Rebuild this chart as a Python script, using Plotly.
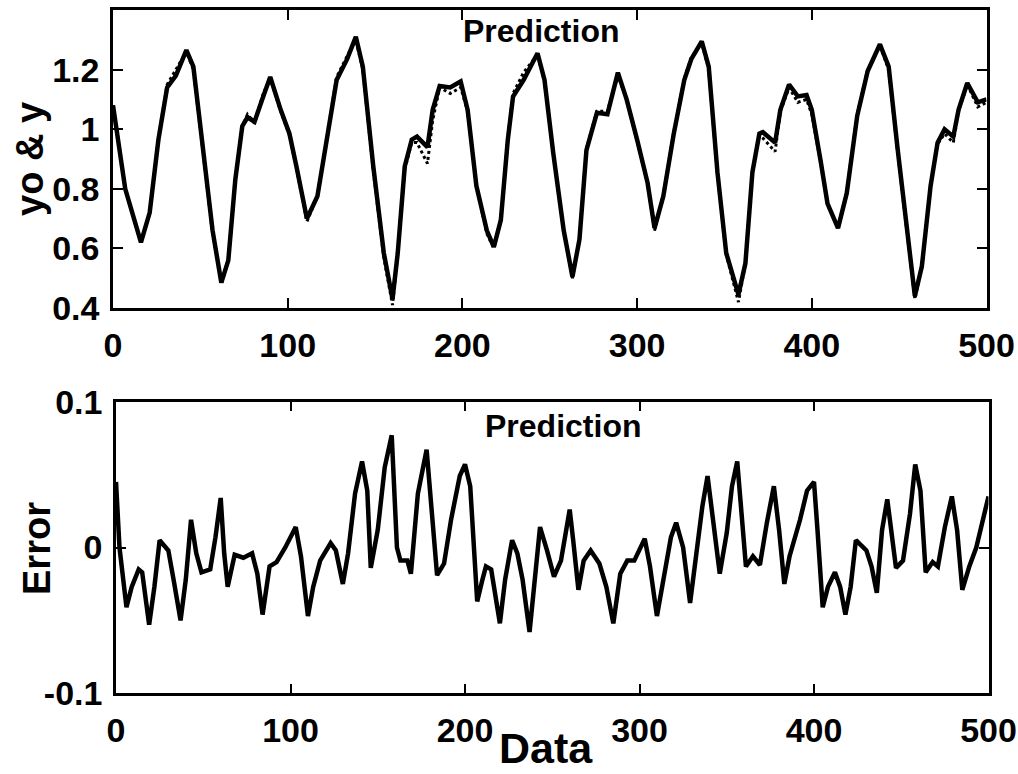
import plotly.graph_objects as go

# ---------------- data ----------------
t_top = [0, 7, 16, 21, 26, 31, 36, 42, 46, 52,
         57, 62, 66, 70, 74, 77, 81, 86, 90, 96,
         101, 105, 111, 117, 122, 128, 134, 139, 143, 149,
         155, 160, 163, 167, 171, 174, 180, 183, 187, 193,
         199, 203, 208, 214, 218, 222, 226, 229, 235, 243,
         247, 252, 258, 263, 267, 271, 277, 283, 289, 294,
         300, 306, 310, 315, 321, 327, 331, 337, 341, 346,
         351, 358, 362, 366, 370, 372, 379, 382, 387, 392,
         397, 400, 405, 409, 415, 420, 426, 432, 439, 444,
         449, 455, 459, 463, 468, 472, 476, 481, 484, 489,
         495, 500]

y_actual = [1.08, 0.80, 0.62, 0.72, 0.965, 1.14, 1.18, 1.265, 1.21, 0.92,
            0.66, 0.485, 0.56, 0.83, 1.01, 1.04, 1.025, 1.11, 1.175, 1.065,
            0.985, 0.875, 0.70, 0.775, 0.955, 1.165, 1.235, 1.31, 1.21, 0.875,
            0.585, 0.43, 0.585, 0.875, 0.965, 0.975, 0.94, 1.065, 1.145, 1.14,
            1.16, 1.065, 0.81, 0.66, 0.605, 0.695, 0.965, 1.11, 1.165, 1.255,
            1.165, 0.92, 0.66, 0.505, 0.63, 0.93, 1.055, 1.05, 1.19, 1.10,
            0.965, 0.82, 0.668, 0.775, 0.985, 1.165, 1.235, 1.295, 1.21, 0.855,
            0.585, 0.445, 0.55, 0.855, 0.985, 0.99, 0.955, 1.065, 1.15, 1.11,
            1.115, 1.065, 0.895, 0.75, 0.668, 0.785, 1.045, 1.195, 1.285, 1.21,
            0.94, 0.65, 0.44, 0.54, 0.81, 0.955, 1.0, 0.975, 1.065, 1.155,
            1.09, 1.10]

y_pred = [1.08, 0.80, 0.62, 0.72, 0.97, 1.15, 1.20, 1.26, 1.20, 0.91,
          0.65, 0.48, 0.56, 0.83, 1.01, 1.05, 1.02, 1.12, 1.17, 1.06,
          0.98, 0.87, 0.69, 0.775, 0.96, 1.175, 1.245, 1.30, 1.20, 0.86,
          0.57, 0.41, 0.58, 0.865, 0.955, 0.955, 0.885, 1.03, 1.14, 1.12,
          1.14, 1.06, 0.81, 0.65, 0.60, 0.70, 0.97, 1.12, 1.19, 1.25,
          1.16, 0.92, 0.66, 0.50, 0.63, 0.935, 1.06, 1.06, 1.18, 1.10,
          0.96, 0.82, 0.66, 0.78, 0.99, 1.17, 1.24, 1.29, 1.20, 0.85,
          0.58, 0.42, 0.55, 0.86, 0.98, 0.97, 0.925, 1.06, 1.14, 1.09,
          1.10, 1.05, 0.89, 0.75, 0.67, 0.79, 1.05, 1.20, 1.28, 1.20,
          0.93, 0.64, 0.43, 0.54, 0.81, 0.95, 0.985, 0.955, 1.06, 1.15,
          1.075, 1.09]

t_err = [0, 2, 6, 9, 13, 15, 19, 22, 25, 30,
         33, 37, 40, 43, 46, 49, 54, 57, 60, 62,
         64, 68, 73, 78, 81, 84, 88, 92, 97, 100,
         103, 106, 110, 113, 117, 123, 126, 130, 133, 137,
         141, 144, 146, 150, 154, 158, 161, 163, 167, 169,
         173, 178, 181, 184, 188, 192, 197, 200, 203, 206,
         207, 210, 212, 215, 220, 223, 227, 230, 233, 237,
         240, 243, 247, 251, 255, 260, 262, 265, 268, 272,
         277, 281, 285, 289, 293, 297, 303, 306, 310, 314,
         318, 321, 325, 329, 333, 336, 339, 341, 346, 350,
         353, 356, 359, 361, 365, 369, 373, 377, 380, 383,
         386, 392, 396, 400, 402, 405, 408, 412, 415, 418,
         421, 424, 430, 433, 436, 439, 442, 444, 447, 451,
         455, 458, 461, 464, 468, 471, 475, 479, 482, 485,
         489, 493, 500]

err = [0.045, 0.0, -0.041, -0.027, -0.015, -0.017, -0.053, -0.027, 0.005, -0.002,
       -0.022, -0.050, -0.022, 0.019, -0.004, -0.017, -0.015, 0.007, 0.034, -0.004,
       -0.027, -0.005, -0.007, -0.004, -0.018, -0.046, -0.013, -0.010, 0.0, 0.007,
       0.014, -0.006, -0.047, -0.027, -0.009, 0.003, -0.002, -0.025, -0.004, 0.037,
       0.059, 0.039, -0.014, 0.012, 0.055, 0.077, 0.0, -0.009, -0.009, -0.018,
       0.037, 0.067, 0.019, -0.019, -0.011, 0.019, 0.049, 0.057, 0.042, -0.013,
       -0.037, -0.022, -0.013, -0.015, -0.052, -0.022, 0.005, -0.004, -0.022, -0.058,
       -0.022, 0.014, -0.002, -0.020, -0.009, 0.026, 0.005, -0.029, -0.009, -0.002,
       -0.011, -0.027, -0.052, -0.018, -0.009, -0.009, 0.006, -0.013, -0.047, -0.020,
       0.007, 0.017, 0.0, -0.038, 0.0, 0.028, 0.049, 0.028, -0.018, 0.010,
       0.042, 0.059, 0.019, -0.013, -0.006, -0.012, 0.017, 0.042, 0.012, -0.025,
       -0.006, 0.019, 0.039, 0.045, 0.012, -0.041, -0.027, -0.017, -0.027, -0.046,
       -0.027, 0.005, -0.002, -0.013, -0.031, 0.012, 0.033, 0.012, -0.014, -0.009,
       0.023, 0.057, 0.039, -0.017, -0.010, -0.013, 0.014, 0.035, 0.012, -0.029,
       -0.013, 0.0, 0.035]

x_ticks = [0, 100, 200, 300, 400, 500]
top_ticks = [0.4, 0.6, 0.8, 1.0, 1.2]
top_tick_labels = ["0.4", "0.6", "0.8", "1", "1.2"]
err_ticks = [-0.1, 0.0, 0.1]
err_tick_labels = ["-0.1", "0", "0.1"]

# ---------------- figure ----------------
FONT = "Liberation Sans"
tickfont = dict(family=FONT, size=34, color="black", weight="bold")

fig = go.Figure()
fig.add_trace(go.Scatter(x=t_top, y=y_pred, mode="lines",
                         line=dict(color="black", width=3, dash="dot"),
                         xaxis="x", yaxis="y", name="yo"))
fig.add_trace(go.Scatter(x=t_top, y=y_actual, mode="lines",
                         line=dict(color="black", width=4.5),
                         xaxis="x", yaxis="y", name="y"))
fig.add_trace(go.Scatter(x=t_err, y=err, mode="lines",
                         line=dict(color="black", width=4.5),
                         xaxis="x2", yaxis="y2", name="Error"))

axis_common = dict(showline=True, linecolor="black", linewidth=2.5, mirror="ticks",
                   ticks="inside", ticklen=10, tickwidth=2, tickcolor="black",
                   showgrid=False, zeroline=False, tickfont=tickfont,
                   automargin=False)

W, H = 1018, 774
fig.update_layout(
    width=W, height=H,
    margin=dict(l=0, r=0, t=0, b=0, autoexpand=False),
    paper_bgcolor="white", plot_bgcolor="white",
    showlegend=False,
    xaxis=dict(domain=[113 / W, 986.5 / W], range=[0, 500], tickvals=x_ticks,
               anchor="y", ticklabelstandoff=5, **axis_common),
    yaxis=dict(domain=[(H - 308) / H, (H - 10) / H], range=[0.4, 1.4],
               tickvals=top_ticks, ticktext=top_tick_labels, anchor="x",
               ticklabelstandoff=4, **axis_common),
    xaxis2=dict(domain=[116 / W, 988.5 / W], range=[0, 500], tickvals=x_ticks,
                anchor="y2", ticklabelstandoff=5, **axis_common),
    yaxis2=dict(domain=[(H - 693.3) / H, (H - 401.7) / H], range=[-0.1, 0.1],
                tickvals=err_ticks, ticktext=err_tick_labels, anchor="x2",
                ticklabelstandoff=4, **axis_common),
)

title_font = dict(family=FONT, size=38, color="black", weight="bold")
data_font = dict(family=FONT, size=43, color="black", weight="bold")
pred_font = dict(family=FONT, size=32, color="black", weight="bold")
fig.add_annotation(text="yo & y", textangle=-90, xref="paper", yref="paper",
                   x=30 / W, y=(H - 159) / H, showarrow=False, font=title_font,
                   xanchor="center", yanchor="middle")
fig.add_annotation(text="Error", textangle=-90, xref="paper", yref="paper",
                   x=37 / W, y=(H - 549) / H, showarrow=False, font=title_font,
                   xanchor="center", yanchor="middle")
fig.add_annotation(text="Data", xref="paper", yref="paper",
                   x=546 / W, y=(H - 748) / H, showarrow=False, font=data_font,
                   xanchor="center", yanchor="middle")
fig.add_annotation(text="Prediction", xref="paper", yref="paper",
                   x=541 / W, y=(H - 31) / H, showarrow=False, font=pred_font,
                   xanchor="center", yanchor="middle")
fig.add_annotation(text="Prediction", xref="paper", yref="paper",
                   x=563 / W, y=(H - 426) / H, showarrow=False, font=pred_font,
                   xanchor="center", yanchor="middle")

fig.write_html("out.html")
